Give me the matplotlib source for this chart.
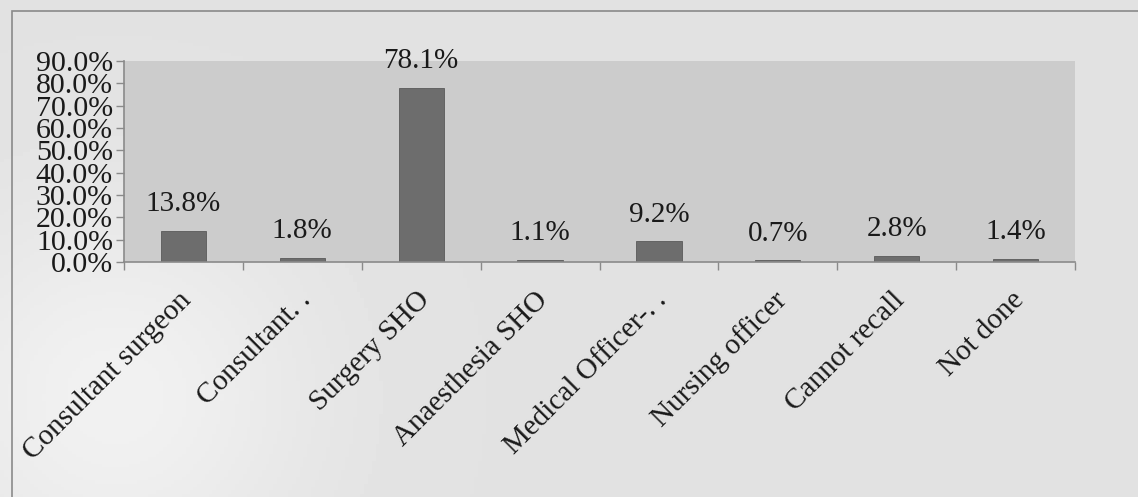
import matplotlib
matplotlib.use("Agg")
import matplotlib.pyplot as plt
import numpy as np
from matplotlib.patches import Rectangle
from matplotlib.ticker import FixedLocator, FuncFormatter
from matplotlib.transforms import ScaledTranslation

categories = ["Consultant surgeon", "Consultant. .", "Surgery SHO", "Anaesthesia SHO",
              "Medical Officer-. .", "Nursing officer", "Cannot recall", "Not done"]
percentages = [13.8, 1.8, 78.1, 1.1, 9.2, 0.7, 2.8, 1.4]
y_ticks = [0, 10, 20, 30, 40, 50, 60, 70, 80, 90]

plt.rcParams["font.family"] = ["Liberation Serif", "DejaVu Serif"]

W, H = 1138, 497
fig = plt.figure(figsize=(W / 100, H / 100), dpi=100)
fig.patch.set_facecolor("#e2e2e2")

# soft page shading behind the chart
bg = fig.add_axes([0, 0, 1, 1], zorder=-10)
xx, yy = np.meshgrid(np.linspace(0, 1, 300), np.linspace(0, 1, 150))
shade = 0.885 + 0.06 * np.exp(-((xx - 0.1) ** 2) / 0.03 - ((yy - 0.2) ** 2) / 0.15)
bg.imshow(shade, cmap="gray", vmin=0, vmax=1, extent=[0, 1, 0, 1],
          aspect="auto", origin="lower")
bg.set_axis_off()

# chart frame
fig.patches.append(Rectangle((12 / W, -0.1), 1.2, 1.1 - 11 / H,
                             transform=fig.transFigure, fill=False,
                             edgecolor="#8a8a8a", linewidth=1.2))

left, right, top, bottom = 124, 1075, 61, 262
ax = fig.add_axes([left / W, 1 - bottom / H, (right - left) / W, (bottom - top) / H])
ax.set_facecolor("#cccccc")

x = np.arange(len(categories))
ax.bar(x, percentages, width=0.38, color="#6d6d6d", edgecolor="#5a5a5a", linewidth=0.6)

for xi, v in zip(x, percentages):
    ax.annotate(f"{v:.1f}%", (xi, v), xytext=(0, 10), textcoords="offset points",
                ha="center", va="bottom", fontsize=21, color="#1a1a1a",
                annotation_clip=False)

ax.set_xlim(-0.5, len(categories) - 0.5)
ax.set_ylim(0, 90)

ax.yaxis.set_major_locator(FixedLocator(y_ticks))
ax.yaxis.set_major_formatter(FuncFormatter(lambda v, _: f"{v:.1f}%"))
ax.tick_params(axis="y", labelsize=21.5, length=6, width=1, color="#8a8a8a",
               pad=2, labelcolor="#1a1a1a")

ax.set_xticks(x)
ax.set_xticklabels(categories, rotation=45, ha="right", va="top",
                   rotation_mode="anchor", fontsize=21, color="#1a1a1a")
ax.tick_params(axis="x", length=0, pad=18)
shift = ScaledTranslation(-5 / 100, 0, fig.dpi_scale_trans)
for lab in ax.get_xticklabels():
    lab.set_transform(lab.get_transform() + shift)
ax.set_xticks(np.arange(len(categories) + 1) - 0.5, minor=True)
ax.tick_params(axis="x", which="minor", length=6, width=1, color="#8a8a8a")

for side in ("top", "right"):
    ax.spines[side].set_visible(False)
for side in ("left", "bottom"):
    ax.spines[side].set_color("#8a8a8a")
    ax.spines[side].set_linewidth(1.2)

fig.savefig("out.png", dpi=100, facecolor=fig.get_facecolor())
